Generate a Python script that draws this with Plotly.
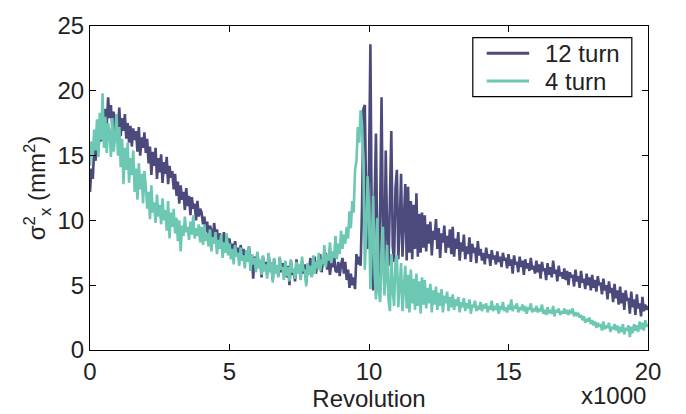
import numpy as np
import plotly.graph_objects as go

# revolution axis (x1000), sampled every 50 revolutions
revolution = np.round(np.linspace(0, 20, 401), 3)

turn12 = [
    12.2, 14.0, 13.2, 15.5, 14.6, 16.2, 15.3, 17.0, 16.1, 17.8, 16.6, 18.6, 17.4, 19.5, 17.9, 18.9, 17.2, 18.4, 16.9, 18.1,
    17.0, 18.7, 16.5, 17.9, 16.9, 18.2, 16.3, 17.5, 16.0, 17.3, 15.7, 17.1, 16.2, 16.9, 15.3, 17.2, 15.0, 16.4, 15.6, 16.8,
    15.2, 16.3, 14.4, 15.7, 13.5, 15.3, 14.2, 15.6, 13.2, 14.8, 13.7, 15.1, 12.9, 14.5, 13.6, 14.9, 12.8, 14.2, 13.3, 13.8,
    12.4, 13.6, 11.9, 13.0, 11.3, 12.7, 11.6, 12.2, 10.8, 12.5, 11.1, 11.9, 10.4, 11.8, 10.9, 11.3, 10.0, 11.5, 10.3, 10.9,
    10.6, 9.7, 10.3, 9.1, 9.9, 8.8, 9.6, 9.2, 8.5, 9.8, 8.7, 9.3, 8.2, 9.0, 8.6, 8.1, 9.1, 7.9, 8.7, 8.3,
    8.6, 7.6, 8.2, 7.2, 8.4, 7.5, 7.9, 6.9, 8.1, 7.3, 7.8, 6.8, 7.6, 7.1, 8.0, 6.5, 7.4, 5.5, 7.2, 6.3,
    7.5, 6.4, 6.9, 5.6, 7.2, 6.1, 6.8, 5.8, 7.4, 6.3, 6.6, 5.4, 7.0, 6.2, 6.5, 5.7, 7.1, 6.0, 6.7, 5.9,
    6.8, 5.6, 6.5, 5.0, 6.9, 5.8, 6.2, 5.3, 7.0, 6.1, 6.4, 5.5, 6.9, 5.9, 6.6, 5.2, 6.3, 6.0, 7.1, 5.7,
    6.5, 7.2, 5.9, 6.8, 6.3, 7.4, 6.0, 6.9, 6.6, 7.5, 6.2, 7.0, 5.8, 6.7, 6.4, 7.3, 6.1, 6.0, 6.8, 5.7,
    6.6, 7.1, 5.9, 6.8, 5.4, 6.2, 4.8, 5.9, 5.0, 5.6, 4.7, 7.4, 6.6, 7.2, 6.5, 11.0, 18.6, 18.9, 11.5, 7.8,
    14.0, 23.6, 9.0, 4.6, 11.5, 16.7, 7.0, 5.5, 11.0, 19.5, 8.5, 6.0, 15.4, 9.0, 6.5, 12.0, 16.9, 8.0, 6.8, 12.5,
    13.9, 7.0, 9.5, 13.6, 7.2, 10.0, 12.8, 6.9, 12.6, 7.5, 11.5, 7.0, 11.2, 7.8, 12.1, 7.2, 10.5, 7.5, 10.6, 7.9,
    10.4, 7.6, 9.7, 8.2, 9.9, 7.3, 9.2, 8.5, 10.1, 7.8, 9.4, 7.1, 9.0, 8.3, 9.6, 7.5, 8.8, 7.9, 9.3, 7.4,
    9.5, 7.2, 8.6, 7.8, 9.1, 6.9, 8.3, 7.6, 8.9, 7.0, 8.0, 7.4, 8.7, 6.8, 8.2, 7.5, 7.9, 6.7, 8.4, 7.3,
    7.8, 6.9, 7.5, 6.6, 7.9, 7.1, 7.4, 6.5, 7.7, 7.0, 7.3, 6.6, 7.6, 6.8, 7.2, 6.4, 7.5, 6.9, 7.1, 6.3,
    7.4, 6.5, 7.0, 5.9, 7.3, 6.6, 6.8, 6.0, 7.2, 6.4, 6.9, 5.8, 7.0, 6.3, 6.7, 6.1, 7.1, 6.2, 6.5, 5.9,
    6.9, 6.0, 6.6, 5.5, 6.8, 6.1, 6.3, 5.4, 6.7, 5.8, 6.4, 5.6, 6.9, 5.9, 6.2, 5.3, 6.5, 5.7, 6.0, 5.5,
    6.3, 5.4, 6.1, 5.0, 6.0, 5.6, 5.8, 4.9, 6.2, 5.3, 5.7, 4.8, 6.1, 5.2, 5.5, 4.7, 5.9, 5.0, 5.6, 4.6,
    5.8, 4.8, 5.4, 4.5, 5.7, 5.0, 5.2, 4.3, 5.5, 4.6, 5.0, 3.9, 5.3, 4.4, 4.8, 3.7, 5.1, 4.0, 4.6, 3.5,
    4.9, 3.6, 4.4, 3.1, 4.6, 3.8, 4.0, 2.8, 4.5, 3.3, 3.9, 2.7, 4.3, 3.2, 3.6, 2.6, 4.1, 3.0, 3.5, 3.1, 3.4,
]

turn4 = [
    14.2, 16.1, 15.0, 17.0, 15.4, 17.8, 14.9, 18.3, 16.2, 19.8, 15.6, 18.0, 15.2, 17.5, 16.8, 14.9, 17.9, 15.3, 16.4, 18.2,
    15.0, 17.2, 14.1, 16.3, 12.8, 15.6, 13.9, 16.0, 12.9, 14.8, 13.5, 15.4, 12.2, 14.0, 11.6, 14.4, 12.4, 13.6, 11.3, 13.8,
    12.6, 10.9, 12.2, 10.1, 12.7, 10.6, 11.4, 9.8, 12.0, 10.3, 11.2, 9.7, 11.7, 10.0, 10.8, 9.2, 11.5, 8.6, 10.6, 9.5,
    10.9, 9.0, 10.2, 8.4, 10.0, 7.6, 9.6, 8.8, 10.3, 9.1, 9.5, 8.5, 9.9, 8.9, 10.4, 8.6, 9.4, 8.8, 9.7, 8.3,
    9.5, 8.1, 9.7, 8.4, 9.0, 8.0, 9.3, 7.6, 8.7, 8.2, 9.1, 7.4, 8.5, 7.8, 8.9, 7.1, 8.3, 7.5, 9.0, 7.3,
    8.2, 7.0, 7.8, 6.6, 8.1, 7.2, 7.5, 6.5, 7.9, 6.9, 7.3, 6.3, 7.7, 6.8, 8.0, 6.1, 7.4, 6.6, 7.1, 6.0,
    7.6, 6.3, 7.0, 5.8, 7.3, 6.1, 6.6, 5.5, 7.5, 6.0, 6.8, 5.2, 7.1, 5.9, 6.5, 5.6, 7.2, 6.2, 6.4, 5.4,
    6.9, 5.7, 6.4, 5.3, 7.0, 6.0, 6.3, 5.5, 6.8, 5.9, 6.6, 5.4, 7.2, 6.1, 6.2, 4.9, 6.7, 5.8, 6.5, 5.6,
    7.3, 5.9, 6.8, 6.3, 7.5, 6.1, 7.0, 6.6, 8.1, 6.4, 7.4, 6.9, 8.3, 6.7, 7.6, 7.1, 8.8, 7.0, 8.2, 7.4,
    9.2, 7.8, 8.9, 8.2, 9.5, 8.6, 10.7, 9.4, 11.5, 10.6, 13.9, 14.6, 17.2, 16.0, 18.5, 17.4, 14.3, 6.2, 9.0, 13.4,
    10.5, 4.7, 8.0, 11.9, 6.0, 3.9, 10.2, 4.5, 3.7, 7.5, 9.5, 4.2, 5.5, 8.1, 3.8, 3.0, 7.4, 4.6, 3.4, 6.9,
    7.3, 3.3, 5.2, 6.7, 3.0, 4.5, 6.5, 3.2, 5.8, 2.9, 6.2, 3.6, 5.5, 3.1, 5.9, 3.4, 5.3, 2.8, 5.6, 3.5,
    5.4, 3.2, 4.8, 3.6, 5.1, 2.9, 4.6, 3.5, 4.9, 3.1, 4.4, 3.4, 4.7, 2.9, 4.2, 3.6, 4.5, 3.0, 4.1, 3.3,
    4.3, 3.1, 3.9, 3.4, 4.1, 2.9, 3.7, 3.3, 4.0, 3.0, 3.6, 3.2, 3.9, 2.8, 3.5, 3.3, 3.8, 3.0, 3.4, 3.1,
    3.7, 3.0, 3.5, 3.2, 3.6, 2.9, 3.4, 3.1, 3.8, 3.0, 3.3, 3.2, 3.6, 2.8, 3.4, 3.1, 3.7, 3.0, 3.3, 2.9,
    3.5, 3.1, 3.9, 3.0, 3.4, 3.2, 3.6, 2.9, 3.3, 3.1, 3.5, 3.0, 3.4, 2.8, 3.3, 3.1, 3.6, 2.9, 3.2, 3.0,
    3.4, 2.9, 3.2, 3.0, 3.5, 2.8, 3.1, 2.7, 3.3, 2.9, 3.0, 2.8, 3.4, 2.6, 3.1, 2.9, 3.2, 2.7, 3.0, 2.8,
    3.2, 2.8, 3.1, 2.7, 3.0, 2.9, 3.2, 2.6, 2.9, 2.7, 2.8, 2.5, 2.7, 2.3, 2.6, 2.1, 2.4, 2.2, 2.5, 2.0,
    2.3, 1.9, 2.2, 1.7, 2.1, 1.8, 2.0, 1.5, 2.2, 1.6, 1.9, 1.7, 2.1, 1.4, 1.8, 1.6, 2.0, 1.5, 1.9, 1.3,
    1.8, 1.4, 2.0, 1.2, 1.7, 1.5, 1.9, 1.0, 1.8, 1.3, 2.0, 1.5, 1.9, 1.4, 2.2, 1.6, 2.1, 1.5, 2.3, 1.8, 2.0,
]

tick_vals = [0, 5, 10, 15, 20, 25]
series_names = ["12 turn", "4 turn"]
colors = ["#4c4a7d", "#6dc8b3"]

font = "Liberation Sans, Arial, sans-serif"
fs = 24

fig = go.Figure()
fig.add_trace(go.Scatter(x=revolution, y=turn12, mode="lines", name=series_names[0],
                         line=dict(color=colors[0], width=2.6)))
fig.add_trace(go.Scatter(x=revolution, y=turn4, mode="lines", name=series_names[1],
                         line=dict(color=colors[1], width=2.6)))

axis_common = dict(showline=True, linecolor="black", linewidth=1.2, mirror="ticks",
                   ticks="inside", ticklen=6, tickcolor="black", tickwidth=1.2,
                   showgrid=False, zeroline=False,
                   tickfont=dict(family=font, size=fs, color="#222"))

# hand-placed legend box (paper coordinates) to match the compact original
legend_box = dict(x0=0.686, x1=0.971, y0=0.782, y1=0.964)
legend_rows_y = [0.916, 0.830]
shapes = [dict(type="rect", xref="paper", yref="paper", line=dict(color="black", width=1.2),
               fillcolor="white", layer="above", **legend_box)]
annotations = []
for name, col, ly in zip(series_names, colors, legend_rows_y):
    shapes.append(dict(type="line", xref="paper", yref="paper", x0=0.711, x1=0.787,
                       y0=ly, y1=ly, line=dict(color=col, width=3), layer="above"))
    annotations.append(dict(text=name, x=0.812, y=ly, xref="paper", yref="paper",
                            xanchor="left", yanchor="middle", showarrow=False,
                            font=dict(family=font, size=fs, color="#222")))
annotations.append(dict(text="x1000", x=1.0, y=0, xref="paper", yref="paper",
                        xanchor="right", yanchor="top", yshift=-30, xshift=0,
                        showarrow=False, font=dict(family=font, size=fs, color="#222")))

fig.update_layout(
    width=686, height=414,
    margin=dict(l=90, r=38, t=15, b=64),
    paper_bgcolor="white", plot_bgcolor="white",
    font=dict(family=font, size=fs, color="#222"),
    xaxis=dict(range=[0, 20], tickvals=tick_vals[:5], ticklabelstandoff=0,
               title=dict(text="Revolution", standoff=0, font=dict(size=fs)), **axis_common),
    yaxis=dict(range=[0, 25], tickvals=tick_vals,
               title=dict(text="σ<sup>2</sup><sub>x</sub> (mm<sup>2</sup>)", standoff=4, font=dict(size=fs)),
               **axis_common),
    showlegend=False,
    shapes=shapes,
    annotations=annotations,
)

fig.write_html("out.html")
